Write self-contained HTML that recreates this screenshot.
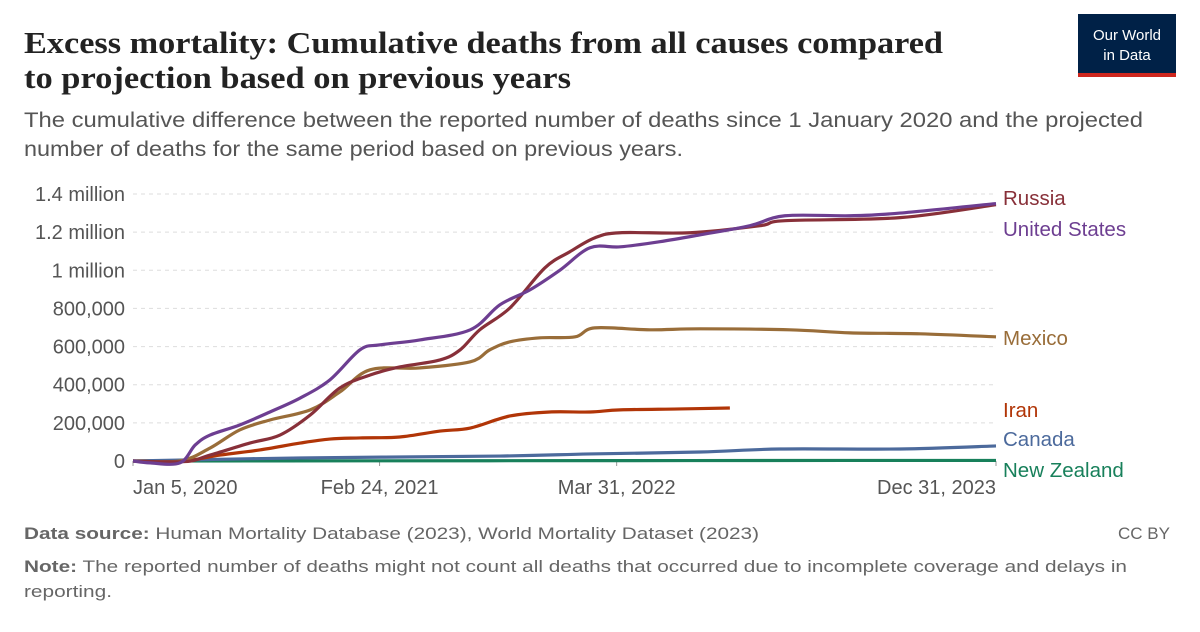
<!DOCTYPE html>
<html><head><meta charset="utf-8">
<style>
body{margin:0;background:#fff;width:1200px;height:627px;overflow:hidden;font-family:"Liberation Sans",sans-serif;}
svg text{font-family:"Liberation Sans",sans-serif;}
</style></head>
<body>
<svg id="chart" width="1200" height="627" xmlns="http://www.w3.org/2000/svg">
<text x="24" y="53" font-weight="bold" font-size="31" fill="#222" textLength="919" lengthAdjust="spacingAndGlyphs" style="font-family:'Liberation Serif',serif">Excess mortality: Cumulative deaths from all causes compared</text>
<text x="24" y="88" font-weight="bold" font-size="31" fill="#222" textLength="547" lengthAdjust="spacingAndGlyphs" style="font-family:'Liberation Serif',serif">to projection based on previous years</text>
<text x="24" y="127" font-size="21" fill="#555" textLength="1119" lengthAdjust="spacingAndGlyphs">The cumulative difference between the reported number of deaths since 1 January 2020 and the projected</text>
<text x="24" y="156" font-size="21" fill="#555" textLength="659" lengthAdjust="spacingAndGlyphs">number of deaths for the same period based on previous years.</text>
<g>
<rect x="1078" y="14" width="98" height="63" fill="#002147"/>
<rect x="1078" y="73" width="98" height="4" fill="#ce261e"/>
<text x="1127" y="40" text-anchor="middle" font-size="15" fill="#fff">Our World</text>
<text x="1127" y="60" text-anchor="middle" font-size="15" fill="#fff">in Data</text>
</g>
<g id="grid"></g><g id="series"></g><g id="labels"></g>
<text x="24" y="539" font-size="17" fill="#666" textLength="735" lengthAdjust="spacingAndGlyphs"><tspan font-weight="bold">Data source:</tspan> Human Mortality Database (2023), World Mortality Dataset (2023)</text>
<text x="1170" y="539" text-anchor="end" font-size="17" fill="#666">CC BY</text>
<text x="24" y="572" font-size="17" fill="#666" textLength="1103" lengthAdjust="spacingAndGlyphs"><tspan font-weight="bold">Note:</tspan> The reported number of deaths might not count all deaths that occurred due to incomplete coverage and delays in</text>
<text x="24" y="597" font-size="17" fill="#666" textLength="88" lengthAdjust="spacingAndGlyphs">reporting.</text>
</svg>
<script>
// days since Jan 5, 2020
const yTicks=[0,200000,400000,600000,800000,1000000,1200000,1400000];
const yTickLabels=["0","200,000","400,000","600,000","800,000","1 million","1.2 million","1.4 million"];
const xTickDays=[0,416,816,1456];
const xTickLabels=["Jan 5, 2020","Feb 24, 2021","Mar 31, 2022","Dec 31, 2023"];
const usDays=[0,29,79,105,130,180,231,282,332,383,417,484,569,619,670,720,771,822,889,957,1041,1100,1210,1294,1456];
const usVals=[0,-10000,-10000,84000,136000,189000,257000,330000,425000,583000,609000,635000,688000,819000,898000,1000000,1118000,1123000,1150000,1186000,1234000,1286000,1286000,1300000,1350000];
const ruDays=[0,88,130,197,248,299,349,400,450,518,552,585,636,695,737,779,822,940,1058,1100,1294,1456];
const ruVals=[0,-3000,31000,94000,136000,241000,383000,451000,493000,530000,583000,688000,803000,1013000,1097000,1170000,1197000,1197000,1234000,1260000,1276000,1344000];
const mxDays=[0,79,130,180,231,299,349,400,484,569,602,636,687,746,779,872,957,1108,1210,1328,1456];
const mxVals=[0,0,68000,163000,215000,268000,362000,478000,488000,520000,583000,625000,646000,651000,698000,688000,693000,688000,672000,667000,651000];
const irDays=[0,79,147,214,282,332,383,450,518,569,636,703,771,822,923,1007];
const irVals=[0,-3000,31000,58000,94000,115000,121000,126000,157000,173000,236000,257000,257000,268000,273000,278000];
const caDays=[0,282,619,771,957,1092,1294,1456];
const caVals=[0,16000,26000,37000,47000,63000,63000,79000];
const nzDays=[0,400,800,1200,1456];
const nzVals=[0,1000,2000,3000,3000];
const x0=133,x1=996,y0=461,yTop=194;
const X=d=>x0+(x1-x0)*d/1456;
const Y=v=>y0-(y0-yTop)*v/1400000;
const NS="http://www.w3.org/2000/svg";
const grid=document.getElementById('grid');
yTicks.forEach((t,i)=>{
 const l=document.createElementNS(NS,'line');
 
 
 l.setAttribute('x1',x0);l.setAttribute('x2',x1);l.setAttribute('y1',Y(t));l.setAttribute('y2',Y(t));
 l.setAttribute('stroke','#ddd');l.setAttribute('stroke-dasharray',i?'4,4':'none');
 grid.appendChild(l);
 const tx=document.createElementNS(NS,'text');
 
 
 tx.setAttribute('x',125);tx.setAttribute('y',Y(t)+7);tx.setAttribute('text-anchor','end');
 tx.setAttribute('font-size','20');tx.setAttribute('fill','#555');tx.textContent=yTickLabels[i];
 grid.appendChild(tx);
});
xTickDays.forEach((d,i)=>{
 const l=document.createElementNS(NS,'line');
 
 
 l.setAttribute('x1',X(d));l.setAttribute('x2',X(d));l.setAttribute('y1',y0);l.setAttribute('y2',y0+5);
 l.setAttribute('stroke','#999');grid.appendChild(l);
 const tx=document.createElementNS(NS,'text');
 
 
 let a='middle',xx=X(d);if(i==0){a='start';xx=x0;} if(i==xTickDays.length-1){a='end';xx=x1;}
 tx.setAttribute('x',xx);tx.setAttribute('y',494);tx.setAttribute('text-anchor',a);
 tx.setAttribute('font-size','20');tx.setAttribute('fill','#555');tx.textContent=xTickLabels[i];
 grid.appendChild(tx);
});
function pathD(days,vals){
 const p=days.map((d,i)=>[X(d),Y(vals[i])]);
 let s='M'+p[0][0]+','+p[0][1];
 for(let i=0;i<p.length-1;i++){
  const a=p[Math.max(0,i-1)],b=p[i],c=p[i+1],e=p[Math.min(p.length-1,i+2)];
  const c1=[b[0]+(c[0]-a[0])/6,b[1]+(c[1]-a[1])/6],c2=[c[0]-(e[0]-b[0])/6,c[1]-(e[1]-b[1])/6];
  s+=' C'+c1+' '+c2+' '+c;
 }
 return s;
}
const ser=document.getElementById('series');
function addLine(name,days,vals,color){
 const p=document.createElementNS(NS,'path');
 
 
 p.setAttribute('d',pathD(days,vals));p.setAttribute('fill','none');
 p.setAttribute('stroke',color);p.setAttribute('stroke-width','3.2');p.setAttribute('stroke-linejoin','round');
 ser.appendChild(p);
}
addLine('new-zealand-line',nzDays,nzVals,'#18805b');
addLine('canada-line',caDays,caVals,'#4c6a9c');
addLine('iran-line',irDays,irVals,'#b13507');
addLine('mexico-line',mxDays,mxVals,'#996d39');
addLine('russia-line',ruDays,ruVals,'#883039');
addLine('united-states-line',usDays,usVals,'#6d3e91');
const labs=[["Russia",205,"#883039"],["United States",236,"#6d3e91"],["Mexico",345,"#996d39"],["Iran",417,"#b13507"],["Canada",446,"#4c6a9c"],["New Zealand",477,"#18805b"]];
const lg=document.getElementById('labels');
labs.forEach(l=>{
 const t=document.createElementNS(NS,'text');
 
 
 t.setAttribute('x',1003);t.setAttribute('y',l[1]);t.setAttribute('font-size','20.5');t.setAttribute('fill',l[2]);
 t.textContent=l[0];lg.appendChild(t);
});
</script>
</body></html>
